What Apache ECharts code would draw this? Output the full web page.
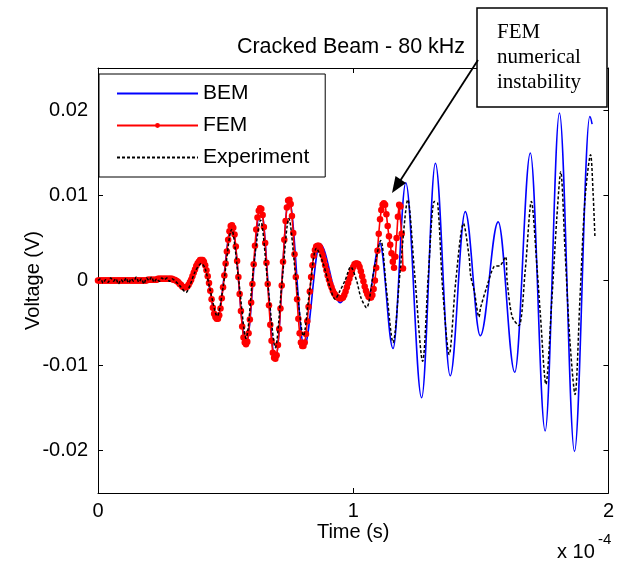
<!DOCTYPE html>
<html><head><meta charset="utf-8">
<script src="https://cdn.jsdelivr.net/npm/echarts@6/dist/echarts.min.js"></script>
<style>html,body{margin:0;padding:0;background:#fff}#c{width:617px;height:562px}</style>
</head><body><div id="c"></div>
<script>
// ---------- DATA (time in units of 1e-4 s, voltage in V) ----------
const chartTitle = 'Cracked Beam - 80 kHz';
const seriesNames = ['BEM', 'FEM', 'Experiment'];
const xTickValues = [0, 1, 2];
const yTickValues = [-0.02, -0.01, 0, 0.01, 0.02];

const bemTime = [0, 0.10, 0.20, 0.28, 0.345, 0.409, 0.467, 0.524, 0.580, 0.637, 0.695, 0.748, 0.808, 0.870, 0.949, 1.016, 1.058, 1.104, 1.156, 1.206, 1.268, 1.322, 1.380, 1.439, 1.498, 1.568, 1.633, 1.694, 1.752, 1.808, 1.867, 1.927, 1.936];
const bemVolt = [0, 0, 0, 0.0001, -0.0008, 0.0024, -0.0045, 0.0065, -0.0075, 0.0086, -0.0093, 0.0096, -0.0078, 0.0043, -0.0026, 0.0018, -0.0020, 0.0044, -0.0080, 0.0115, -0.0138, 0.0138, -0.0112, 0.0081, -0.0065, 0.0069, -0.0108, 0.0150, -0.0177, 0.0197, -0.0201, 0.0193, 0.0184];

const femStart = 0;
const femStep = 0.005;
const femVolt = [
  0,0,0,0,0,0,0,0,0,0,
  0,0,0,0,0,0,0,0,0,0,
  0,0,0,0,0,0,0,0,0,0,
  0,0,0,0,0,0,0,0,0,0.0001,
  0.0001,0.0001,0.0001,0.0001,0.0001,0.0001,0.0001,0.0002,0.0002,0.0002,
  0.0002,0.0002,0.0002,0.0002,0.0002,0.0002,0.0002,0.0002,0.0002,0.0001,
  0.0001,0.0000,-0.0001,-0.0002,-0.0004,-0.0005,-0.0007,-0.0008,-0.0008,-0.0008,
  -0.0007,-0.0005,-0.0002,0.0001,0.0005,0.0009,0.0013,0.0017,0.0020,0.0022,
  0.0024,0.0024,0.0024,0.0022,0.0018,0.0012,0.0005,-0.0003,-0.0012,-0.0022,
  -0.0032,-0.0039,-0.0043,-0.0045,-0.0045,-0.0041,-0.0033,-0.0021,-0.0008,0.0006,
  0.0020,0.0034,0.0048,0.0058,0.0064,0.0065,0.0062,0.0054,0.0040,0.0023,
  0.0004,-0.0016,-0.0036,-0.0054,-0.0067,-0.0073,-0.0075,-0.0072,-0.0062,-0.0046,
  -0.0026,-0.0004,0.0019,0.0041,0.0060,0.0074,0.0082,0.0085,0.0084,0.0077,
  0.0063,0.0044,0.0021,-0.0004,-0.0029,-0.0052,-0.0071,-0.0085,-0.0091,-0.0092,
  -0.0088,-0.0076,-0.0057,-0.0033,-0.0006,0.0022,0.0048,0.0070,0.0086,0.0094,
  0.0095,0.0090,0.0076,0.0056,0.0031,0.0004,-0.0022,-0.0045,-0.0062,-0.0073,
  -0.0077,-0.0077,-0.0073,-0.0063,-0.0048,-0.0031,-0.0013,0.0004,0.0018,0.0029,
  0.0036,0.0040,0.0041,0.0041,0.0039,0.0035,0.0030,0.0024,0.0018,0.0012,
  0.0006,0.0001,-0.0004,-0.0008,-0.0012,-0.0015,-0.0017,-0.0019,-0.0020,-0.0021,
  -0.0021,-0.0021,-0.0020,-0.0017,-0.0013,-0.0008,-0.0003,0.0002,0.0007,0.0012,
  0.0016,0.0019,0.0020,0.0020,0.0019,0.0016,0.0011,0.0005,-0.0001,-0.0007,
  -0.0012,-0.0016,-0.0019,-0.0020,-0.0020,-0.0017,-0.0010,0.0000,0.0015,0.0035,
  0.0055,0.0072,0.0083,0.0089,0.0091,0.0089,0.0078,0.0064,0.0052,0.0042,
  0.0032,0.0022,0.0015,0.0028,0.0050,0.0075,0.0089,0.0087,0.0055,0.0014
];

const expTime = [0.00,0.01,0.02,0.03,0.04,0.05,0.06,0.07,0.08,0.09,0.10,0.11,0.12,0.13,0.14,0.15,0.16,0.17,0.18,0.19,0.20,0.21,0.22,0.23,0.24,0.25,0.26,0.27,0.28,0.29,0.30,
  0.32,0.345,0.36,0.38,0.405,0.42,0.44,0.467,0.49,0.524,0.55,0.580,0.61,0.637,0.665,0.695,0.72,0.748,0.775,0.805,0.83,0.856,0.88,0.909,0.929,0.945,0.968,0.990,1.013,1.030,1.052,1.08,1.108,
  1.13,1.156,1.185,1.214,1.24,1.272,1.295,1.318,1.331,1.350,1.376,1.402,1.432,1.454,1.460,1.474,1.493,1.499,1.525,1.551,1.577,1.597,1.603,1.623,1.649,1.674,1.698,
  1.720,1.733,1.755,1.778,1.798,1.813,1.830,1.849,1.869,1.888,1.908,1.930,1.940,1.947];
const expVolt = [0.0000,0.0002,-0.0003,0.0001,-0.0002,0.0003,-0.0001,0.0002,-0.0004,0.0001,-0.0002,0.0003,-0.0003,0.0002,-0.0001,0.0004,-0.0002,0.0002,-0.0004,0.0003,0.0000,0.0004,-0.0002,0.0002,-0.0001,0.0003,0.0001,0.0003,-0.0001,0.0002,0.0000,
  -0.0006,-0.0014,-0.0006,0.0010,0.0020,0.0014,-0.0012,-0.0042,-0.0008,0.0060,0.0004,-0.0068,0.0017,0.0071,-0.0003,-0.0079,-0.0005,0.0073,0.0004,-0.0065,-0.0010,0.0038,0.0022,-0.0008,-0.0022,-0.0014,0.0000,0.0016,0.0000,-0.0020,-0.0032,0.0010,0.0047,
  -0.0010,-0.0073,0.0015,0.0095,0.0010,-0.0095,0.0010,0.0093,0.0091,-0.0008,-0.0087,0.0000,0.0067,0.0028,0.0006,-0.0012,-0.0043,-0.0032,-0.0006,0.0016,0.0018,0.0028,0.0000,-0.0043,-0.0053,0.0012,0.0093,
  0.0016,-0.0039,-0.0122,-0.0024,0.0075,0.0128,0.0035,-0.0071,-0.0134,-0.0024,0.0095,0.0148,0.0102,0.0051];

// ---------- BUILD ----------
const pairs = (xs, ys) => xs.map((x, i) => [x, ys[i]]);
const bemData = pairs(bemTime, bemVolt);
const femData = femVolt.map((v, i) => [+(femStart + i * femStep).toFixed(4), v]);
const expData = pairs(expTime, expVolt);

const FONT = 'Liberation Sans, Arial, sans-serif';
const SERIF = 'Liberation Serif, Times New Roman, serif';

const chart = echarts.init(document.getElementById('c'), null, {renderer: 'canvas'});
const axisBase = {
  type: 'value', splitLine: {show: false},
  axisLine: {show: true, onZero: false, lineStyle: {color: '#000', width: 1}}
};
chart.setOption({
  animation: false,
  backgroundColor: '#fff',
  grid: {left: 98, right: 6, top: 68, bottom: 69, containLabel: false},
  legend: {
    orient: 'vertical', left: 99, top: 74,
    data: [
      {name: seriesNames[0], itemStyle: {opacity: 0}},
      {name: seriesNames[1]},
      {name: seriesNames[2], itemStyle: {opacity: 0}}
    ],
    backgroundColor: '#fff', borderColor: '#000', borderWidth: 1,
    padding: [9, 16, 9, 17],
    itemWidth: 81, itemHeight: 6, itemGap: 11,
    textStyle: {fontFamily: FONT, fontSize: 21, color: '#000'}
  },
  xAxis: [
    Object.assign({}, axisBase, {
      min: 0, max: 2, interval: 1, position: 'bottom',
      axisLabel: {customValues: xTickValues, margin: 8, color: '#000', fontFamily: FONT, fontSize: 20},
      axisTick: {show: true, inside: true, length: 5, customValues: xTickValues, lineStyle: {color: '#000'}},
      name: 'Time (s)', nameLocation: 'middle', nameGap: 29, nameMoveOverlap: false,
      nameTextStyle: {fontFamily: FONT, fontSize: 20, color: '#000'}
    }),
    Object.assign({}, axisBase, {
      min: 0, max: 2, interval: 1, position: 'top',
      axisLabel: {show: false},
      axisTick: {show: true, inside: true, length: 5, customValues: xTickValues, lineStyle: {color: '#000'}}
    })
  ],
  yAxis: [
    Object.assign({}, axisBase, {
      min: -0.025, max: 0.025, position: 'left',
      axisLabel: {customValues: yTickValues, margin: 10, color: '#000', fontFamily: FONT, fontSize: 20,
        formatter: v => (Math.abs(v) < 1e-9 ? '0' : v.toFixed(2))},
      axisTick: {show: true, inside: true, length: 5, customValues: yTickValues, lineStyle: {color: '#000'}},
      name: 'Voltage (V)', nameLocation: 'middle', nameGap: 55, nameMoveOverlap: false,
      nameTextStyle: {fontFamily: FONT, fontSize: 20, color: '#000'}
    }),
    Object.assign({}, axisBase, {
      min: -0.025, max: 0.025, position: 'right',
      axisLabel: {show: false},
      axisTick: {show: true, inside: true, length: 5, customValues: yTickValues, lineStyle: {color: '#000'}}
    })
  ],
  series: [
    {name: seriesNames[0], type: 'line', data: bemData, symbol: 'none', smooth: 0.36, smoothMonotone: 'x',
     lineStyle: {color: '#0000ff', width: 1.6}, itemStyle: {color: '#0000ff'}, z: 2},
    {name: seriesNames[1], type: 'line', data: femData, symbol: 'circle', symbolSize: 6.5, showSymbol: true,
     lineStyle: {color: '#ff0000', width: 1.6}, itemStyle: {color: '#ff0000'}, z: 3},
    {name: seriesNames[2], type: 'line', data: expData, symbol: 'none', smooth: 0.3,
     lineStyle: {color: '#000', width: 1.5, type: [3, 2]}, itemStyle: {color: '#000'}, z: 4}
  ],
  graphic: [
    {type: 'text', x: 351, y: 47, z: 10,
     style: {text: chartTitle, font: '21.5px ' + FONT, fill: '#000', textAlign: 'center', textVerticalAlign: 'middle'}},
    {type: 'text', x: 557, y: 552, z: 10,
     style: {text: 'x 10', font: '20px ' + FONT, fill: '#000', textAlign: 'left', textVerticalAlign: 'middle'}},
    {type: 'text', x: 598, y: 540, z: 10,
     style: {text: '-4', font: '15px ' + FONT, fill: '#000', textAlign: 'left', textVerticalAlign: 'middle'}},
    {type: 'rect', z: 20, shape: {x: 477, y: 8, width: 130, height: 99},
     style: {fill: '#fff', stroke: '#000', lineWidth: 1.5}},
    {type: 'text', x: 497, y: 32, z: 21, style: {text: 'FEM', font: '21px ' + SERIF, fill: '#000', textVerticalAlign: 'middle'}},
    {type: 'text', x: 497, y: 57, z: 21, style: {text: 'numerical', font: '21px ' + SERIF, fill: '#000', textVerticalAlign: 'middle'}},
    {type: 'text', x: 497, y: 82, z: 21, style: {text: 'instability', font: '21px ' + SERIF, fill: '#000', textVerticalAlign: 'middle'}},
    {type: 'line', z: 21, shape: {x1: 478, y1: 60, x2: 400, y2: 181}, style: {stroke: '#000', lineWidth: 1.8}},
    {type: 'polygon', z: 21, shape: {points: [[392, 193], [406, 183], [395.5, 176]]}, style: {fill: '#000'}}
  ]
});
</script></body></html>
